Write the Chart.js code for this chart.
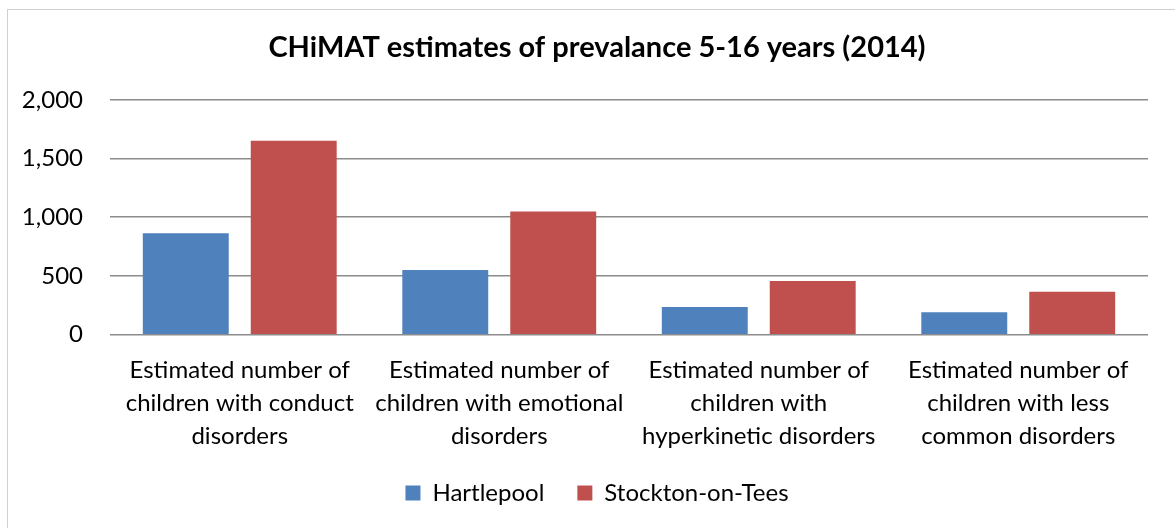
<!DOCTYPE html>
<html>
<head>
<meta charset="utf-8">
<script src="https://cdn.jsdelivr.net/npm/chart.js@4/dist/chart.umd.min.js"></script>
<style>
    html, body { margin: 0; padding: 0; background: #fff; }
    #wrap { width: 1175px; height: 528px; position: relative; }
</style>
</head>
<body>
<div id="wrap"><canvas id="prevChart"></canvas></div>
<script>
var categories = [
    ['Estimated number of', 'children with conduct', 'disorders'],
    ['Estimated number of', 'children with emotional', 'disorders'],
    ['Estimated number of', 'children with', 'hyperkinetic disorders'],
    ['Estimated number of', 'children with less', 'common disorders']
];
var hartlepool = [864, 550, 235, 190];
var stockton = [1652, 1048, 456, 365];
var yTicks = [0, 500, 1000, 1500, 2000];

var fontFamily = 'Lato, "Open Sans", sans-serif';

// light frame around the whole chart, like the office export
var framePlugin = {
    id: 'frame',
    beforeDraw: function(chart) {
        var ctx = chart.ctx;
        ctx.save();
        ctx.fillStyle = '#ffffff';
        ctx.fillRect(0, 0, chart.width, chart.height);
        ctx.strokeStyle = '#d0d0d0';
        ctx.lineWidth = 1;
        ctx.strokeRect(7.5, 9.5, chart.width, chart.height);
        ctx.restore();
    }
};

// scales were squeezed in afterFit, widen their boxes again so the labels are not clipped
var unclipPlugin = {
    id: 'unclip',
    afterLayout: function(chart) {
        chart.scales.x.bottom += 30;
        chart.scales.y.left = 0;
    }
};

function initChart() {
    var ctx = document.getElementById('prevChart');

    new Chart(ctx, {
        type: 'bar',
        data: {
            labels: categories,
            datasets: [{
                label: 'Hartlepool',
                data: hartlepool,
                backgroundColor: '#4F81BD'
            }, {
                label: 'Stockton-on-Tees',
                data: stockton,
                backgroundColor: '#C0504D'
            }]
        },
        options: {
            responsive: true,
            maintainAspectRatio: false,
            animation: false,
            categoryPercentage: 0.832,
            barPercentage: 0.796,
            layout: {
                padding: { left: 46, right: 27, top: 10, bottom: 13 }
            },
            scales: {
                y: {
                    min: 0,
                    max: 2000,
                    border: { display: false },
                    grid: {
                        color: '#8c8c8c',
                        lineWidth: 1.5,
                        drawTicks: false
                    },
                    afterBuildTicks: function(scale) {
                        scale.ticks = yTicks.map(function(v) { return { value: v }; });
                    },
                    afterFit: function(scale) {
                        scale.width = 64;
                    },
                    ticks: {
                        padding: 27,
                        color: '#000',
                        font: { family: fontFamily, size: 24 },
                        callback: function(value) {
                            return value.toLocaleString('en-US');
                        }
                    }
                },
                x: {
                    border: { display: false },
                    grid: { display: false },
                    afterFit: function(scale) {
                        // let the legend sit a bit closer to the labels
                        scale.height = scale.height - 16;
                    },
                    ticks: {
                        maxRotation: 0,
                        autoSkip: false,
                        padding: 11,
                        color: '#000',
                        font: { family: fontFamily, size: 24, lineHeight: 1.38 }
                    }
                }
            },
            plugins: {
                title: {
                    display: true,
                    text: 'CHiMAT estimates of prevalance 5-16 years (2014)',
                    color: '#000',
                    font: { family: fontFamily, size: 29, weight: 'bold' },
                    padding: { top: 20, bottom: 35 }
                },
                legend: {
                    position: 'bottom',
                    labels: {
                        boxWidth: 15,
                        boxHeight: 15,
                        padding: 33,
                        color: '#000',
                        font: { family: fontFamily, size: 24 }
                    }
                },
                tooltip: { enabled: false }
            }
        },
        plugins: [framePlugin, unclipPlugin]
    });
}

document.addEventListener('DOMContentLoaded', initChart);
</script>
</body>
</html>
